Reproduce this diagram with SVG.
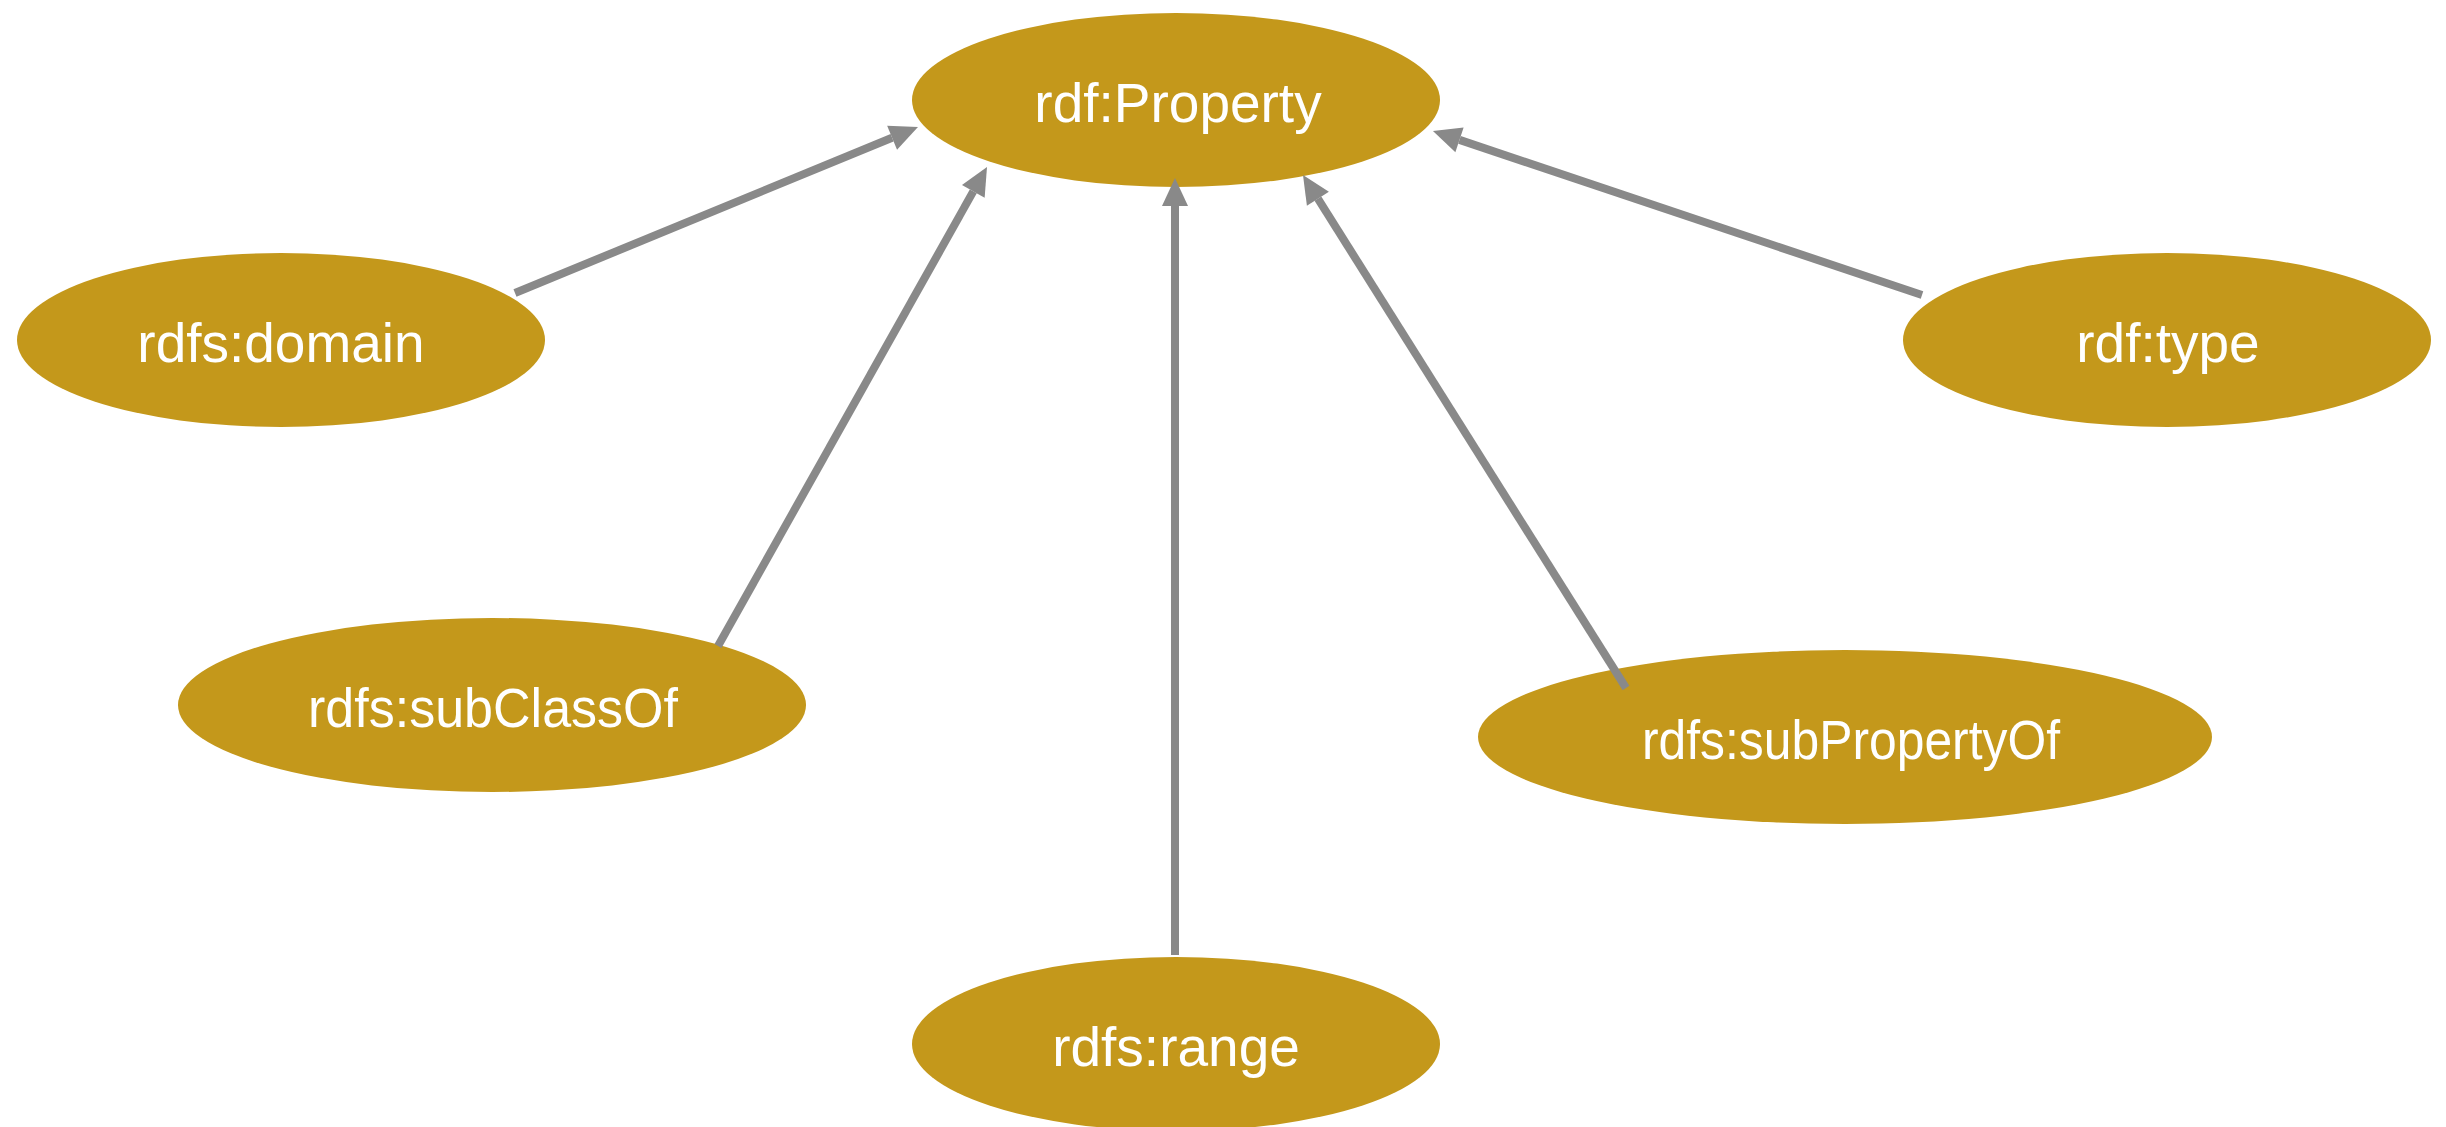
<svg xmlns="http://www.w3.org/2000/svg" width="2446" height="1127" viewBox="0 0 2446 1127">
  <style>
    .node ellipse { fill: #C4981B; }
    .node text { fill: #FFFFFF; font-family: "Liberation Sans", Arial, sans-serif; font-size: 55px; text-anchor: middle; }
    .edge { stroke: #898989; stroke-width: 8; fill: none; marker-end: url(#arrow); }
  </style>
  <defs>
    <!-- filled triangular arrowhead; the line stops at its base -->
    <marker id="arrow" markerUnits="userSpaceOnUse" viewBox="0 0 28 26" refX="0" refY="13" markerWidth="28" markerHeight="26" orient="auto" overflow="visible">
      <path d="M0,0 L28,13 L0,26 Z" fill="#898989"/>
    </marker>
  </defs>
  <rect width="2446" height="1127" fill="#FFFFFF"/>

  <g id="node-rdf-Property" class="node">
    <ellipse cx="1176" cy="100" rx="264" ry="87"/>
    <text x="1178" y="122">rdf:Property</text>
  </g>
  <g id="node-rdfs-domain" class="node">
    <ellipse cx="281" cy="340" rx="264" ry="87"/>
    <text x="281" y="362">rdfs:domain</text>
  </g>
  <g id="node-rdf-type" class="node">
    <ellipse cx="2167" cy="340" rx="264" ry="87"/>
    <text x="2168" y="362">rdf:type</text>
  </g>
  <g id="node-rdfs-subClassOf" class="node">
    <ellipse cx="492" cy="705" rx="314" ry="87"/>
    <text x="493" y="727" textLength="370" lengthAdjust="spacingAndGlyphs">rdfs:subClassOf</text>
  </g>
  <g id="node-rdfs-subPropertyOf" class="node">
    <ellipse cx="1845" cy="737" rx="367" ry="87"/>
    <text x="1851" y="759" textLength="418" lengthAdjust="spacingAndGlyphs">rdfs:subPropertyOf</text>
  </g>
  <g id="node-rdfs-range" class="node">
    <ellipse cx="1176" cy="1044" rx="264" ry="87"/>
    <text x="1176" y="1066">rdfs:range</text>
  </g>

  <g id="connectors">
    <line class="edge" x1="515" y1="293" x2="892.1" y2="137.7"/>
    <line class="edge" x1="718" y1="646" x2="973.3" y2="191.4"/>
    <line class="edge" x1="1175" y1="955" x2="1175" y2="206"/>
    <line class="edge" x1="1626" y1="688" x2="1317.9" y2="198.7"/>
    <line class="edge" x1="1922" y1="295" x2="1459.5" y2="139.9"/>
  </g>
</svg>
